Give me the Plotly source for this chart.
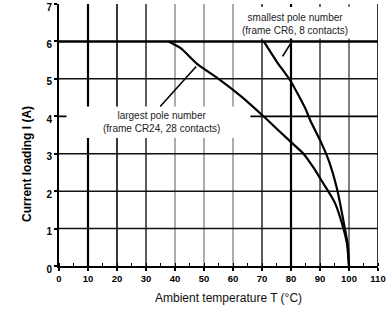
import plotly.graph_objects as go

# ---- data ----
temp_largest = [37.8, 42, 47.6, 55, 62.5, 70.5, 76, 80, 84.3, 88, 90, 92, 94, 95.3, 97.6, 99.3, 100]
curr_largest = [6.0, 5.82, 5.4, 5.0, 4.55, 4.0, 3.6, 3.31, 3.0, 2.6, 2.35, 2.1, 1.85, 1.66, 1.13, 0.6, 0.0]

temp_smallest = [70.6, 75, 79.8, 83, 85.3, 86.7, 90.1, 93, 95.9, 98.1, 99.6, 100]
curr_smallest = [6.0, 5.47, 4.95, 4.5, 4.15, 3.88, 3.35, 2.82, 2.05, 1.2, 0.55, 0.0]

x_ticks = [0, 10, 20, 30, 40, 50, 60, 70, 80, 90, 100, 110]
y_ticks = [0, 1, 2, 3, 4, 5, 6, 7]
v_grid = [10, 20, 30, 40, 50, 60, 70, 80, 90, 100, 110]
h_grid = [1, 2, 3, 4, 5, 6]

label_small = "smallest pole number<br>(frame CR6, 8 contacts)"
label_large = "largest pole number<br>(frame CR24, 28 contacts)"
x_title = "Ambient temperature T (°C)"
y_title = "Current loading I (A)"

# ---- styles ----
v_style = {10: ("#000", 2.2), 20: ("#222", 1.8), 30: ("#333", 1.6), 40: ("#888", 1.4),
           50: ("#888", 1.4), 60: ("#888", 1.4), 70: ("#333", 1.6), 80: ("#000", 2.2),
           90: ("#444", 1.6), 100: ("#555", 1.5), 110: ("#000", 1.6)}
h_style = {1: ("#111", 1.5), 2: ("#111", 1.5), 3: ("#111", 1.5), 4: ("#000", 1.8),
           5: ("#111", 1.5), 6: ("#000", 2.6)}

narrow = "Liberation Sans Narrow, Arial Narrow, Liberation Sans, Arial, sans-serif"
plain = "Liberation Sans, Arial, Helvetica, sans-serif"

fig = go.Figure()
fig.add_trace(go.Scatter(x=temp_largest, y=curr_largest, mode="lines",
                         line=dict(color="#000", width=2.2, shape="spline", smoothing=0.5),
                         showlegend=False, hoverinfo="skip"))
fig.add_trace(go.Scatter(x=temp_smallest, y=curr_smallest, mode="lines",
                         line=dict(color="#000", width=2.2, shape="spline", smoothing=0.5),
                         showlegend=False, hoverinfo="skip"))

shapes = []
for v in v_grid:
    c, w = v_style[v]
    shapes.append(dict(type="line", xref="x", yref="y", x0=v, x1=v, y0=0, y1=7.05,
                       line=dict(color=c, width=w), layer="below"))
for h in h_grid:
    c, w = h_style[h]
    shapes.append(dict(type="line", xref="x", yref="y", x0=0, x1=110, y0=h, y1=h,
                       line=dict(color=c, width=w), layer="below"))
# white label backgrounds that interrupt the grid
shapes.append(dict(type="rect", xref="x", yref="y", x0=2.6, x1=66, y0=3.42, y1=4.26,
                   fillcolor="white", line=dict(width=0), layer="below"))
shapes.append(dict(type="rect", xref="x", yref="y", x0=65, x1=109.4, y0=6.08, y1=6.92,
                   fillcolor="white", line=dict(width=0), layer="below"))
# leader lines
shapes.append(dict(type="line", xref="x", yref="y", x0=77.1, x1=79.9, y0=5.6, y1=5.95,
                   line=dict(color="#000", width=1.6)))
shapes.append(dict(type="line", xref="x", yref="y", x0=34.9, x1=47.3, y0=4.26, y1=5.33,
                   line=dict(color="#000", width=1.6)))

annotations = [
    dict(x=81.5, y=6.47, xref="x", yref="y", text=label_small, showarrow=False,
         font=dict(family=plain, size=10, color="#222"), align="center"),
    dict(x=35.3, y=3.86, xref="x", yref="y", text=label_large, showarrow=False,
         font=dict(family=plain, size=10, color="#222"), align="center"),
    dict(x=-0.1, y=0.39, xref="paper", yref="paper", text=y_title, showarrow=False,
         textangle=-90, xanchor="center", yanchor="middle",
         font=dict(family=narrow, size=12, color="#000", weight="bold")),
    dict(x=0.53, y=-0.122, xref="paper", yref="paper", text=x_title, showarrow=False,
         xanchor="center", yanchor="middle",
         font=dict(family=plain, size=12, color="#111")),
]

fig.update_layout(
    width=386, height=309,
    margin=dict(l=59, r=8, t=4, b=43, autoexpand=False),
    paper_bgcolor="white", plot_bgcolor="white",
    shapes=shapes, annotations=annotations,
    xaxis=dict(range=[0, 110], tickvals=x_ticks, ticktext=[str(t) for t in x_ticks],
               showgrid=False, zeroline=False, showline=True, linecolor="#000", linewidth=1.8,
               ticks="outside", ticklen=3, tickwidth=1.5, tickcolor="#000",
               minor=dict(dtick=5, ticks="inside", ticklen=3, tickwidth=1.2, tickcolor="#000"),
               tickfont=dict(family=narrow, size=9.5, color="#000", weight="bold"),
               ticklabeloverflow="allow", automargin=False, fixedrange=True),
    yaxis=dict(range=[0, 7], tickvals=y_ticks, ticktext=[str(t) for t in y_ticks],
               showgrid=False, zeroline=False, showline=True, linecolor="#000", linewidth=1.8,
               ticks="outside", ticklen=3, tickwidth=1.5, tickcolor="#000",
               tickfont=dict(family=narrow, size=10, color="#000", weight="bold"),
               ticklabelshift=3,
               ticklabeloverflow="allow", automargin=False, fixedrange=True),
)

fig.write_html("out.html", config={"displayModeBar": False},
               post_script="document.body.style.margin='0';document.body.style.padding='0';")
